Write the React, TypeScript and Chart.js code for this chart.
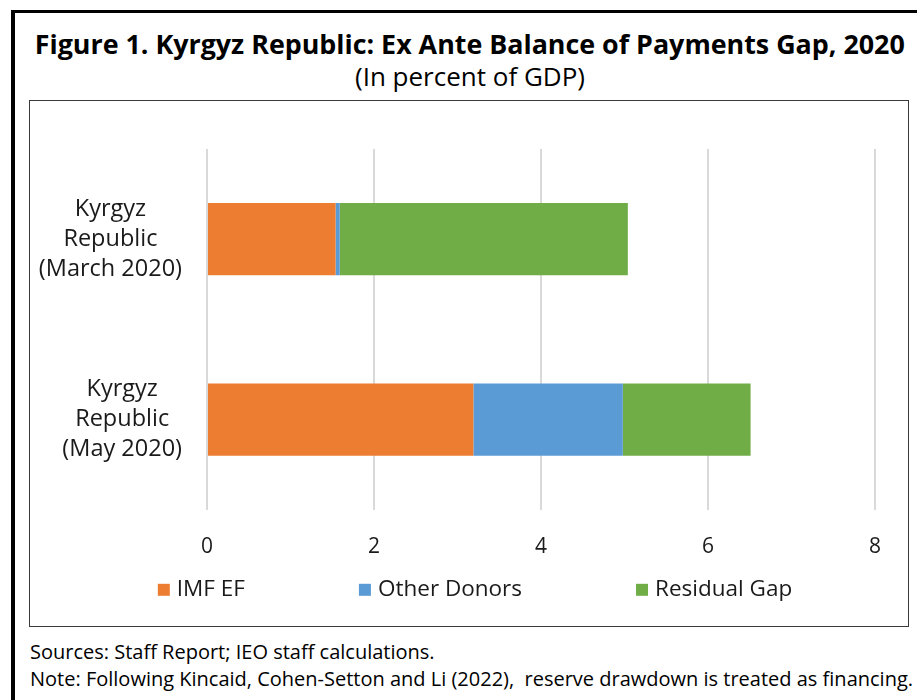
import React, { useEffect, useLayoutEffect, useRef } from "react";
import { Chart, registerables } from "chart.js";

Chart.register(...registerables);

// ---- Data ----
const categories: string[][] = [
  ["Kyrgyz", "Republic", "(March 2020)"],
  ["Kyrgyz", "Republic", "(May 2020)"],
];
const seriesNames = ["IMF EF", "Other Donors", "Residual Gap"];
const imfEF = [1.54, 3.19];
const otherDonors = [0.05, 1.79];
const residualGap = [3.45, 1.53];
const seriesColors = ["#ED7D31", "#5B9BD5", "#70AD47"];
const xTicks = [0, 2, 4, 6, 8];

const titleText = "Figure 1. Kyrgyz Republic: Ex Ante Balance of Payments Gap, 2020";
const subtitleText = "(In percent of GDP)";
const sourcesText = "Sources: Staff Report; IEO staff calculations.";
const noteText =
  "Note: Following Kincaid, Cohen-Setton and Li (2022),  reserve drawdown is treated as financing.";

const FONT = '"Open Sans", "Noto Sans", sans-serif';

const categoryLabelPlugin = {
  id: "categoryLabels",
  afterDraw(chart: any) {
    const { ctx } = chart;
    const yScale = chart.scales.y;
    const right = chart.chartArea.left - 25;
    const lineH = 30;
    ctx.save();
    ctx.font = `23.5px ${FONT}`;
    ctx.fillStyle = "#1a1a1a";
    ctx.textAlign = "center";
    ctx.textBaseline = "middle";
    (chart.data.labels as string[][]).forEach((lines, i) => {
      const cy = yScale.getPixelForValue(i);
      const maxW = Math.max(...lines.map((l) => ctx.measureText(l).width));
      const cx = right - maxW / 2;
      lines.forEach((l, j) => {
        ctx.fillText(l, cx, cy + (j - (lines.length - 1) / 2) * lineH);
      });
    });
    ctx.restore();
  },
};

const legendPlugin = {
  id: "excelLegend",
  afterDraw(chart: any) {
    const { ctx } = chart;
    const box = 12;
    const textGap = 7;
    const itemGap = 114;
    ctx.save();
    ctx.font = `22.5px ${FONT}`;
    const items = chart.data.datasets.map((d: any) => ({
      text: d.label as string,
      color: d.backgroundColor as string,
      w: box + textGap + ctx.measureText(d.label).width,
    }));
    const total =
      items.reduce((s: number, it: any) => s + it.w, 0) + itemGap * (items.length - 1);
    let x = chart.width / 2 + 6 - total / 2;
    const y = chart.chartArea.bottom + 80;
    ctx.textBaseline = "middle";
    ctx.textAlign = "left";
    items.forEach((it: any) => {
      ctx.fillStyle = it.color;
      ctx.fillRect(x, y - box / 2, box, box);
      ctx.fillStyle = "#1a1a1a";
      ctx.fillText(it.text, x + box + textGap, y);
      x += it.w + itemGap;
    });
    ctx.restore();
  },
};

function BarChart() {
  const ref = useRef<HTMLCanvasElement>(null);
  useEffect(() => {
    if (!ref.current) return;
    const chart = new Chart(ref.current, {
      type: "bar",
      data: {
        labels: categories as any,
        datasets: [
          { label: seriesNames[0], data: imfEF, backgroundColor: seriesColors[0] },
          { label: seriesNames[1], data: otherDonors, backgroundColor: seriesColors[1] },
          { label: seriesNames[2], data: residualGap, backgroundColor: seriesColors[2] },
        ].map((d) => ({ ...d, barPercentage: 0.4, categoryPercentage: 1, borderWidth: 0 })),
      },
      options: {
        indexAxis: "y",
        animation: false,
        responsive: false,
        maintainAspectRatio: false,
        layout: { padding: { top: 48, right: 33, bottom: 41, left: 0 } },
        plugins: {
          legend: { display: false },
          tooltip: { enabled: false },
          title: { display: false },
        },
        scales: {
          x: {
            stacked: true,
            min: xTicks[0],
            max: xTicks[xTicks.length - 1],
            afterBuildTicks: (s: any) => {
              s.ticks = xTicks.map((v) => ({ value: v }));
            },
            ticks: {
              padding: 25,
              color: "#1a1a1a",
              font: { family: FONT, size: 21 },
              maxRotation: 0,
            },
            grid: { color: "#d9d9d9", lineWidth: 2, drawTicks: false },
            border: { display: false },
          },
          y: {
            stacked: true,
            ticks: { display: false },
            grid: { display: false },
            border: { display: false },
            afterFit: (s: any) => {
              s.width = 177;
            },
          },
        },
      } as any,
      plugins: [categoryLabelPlugin, legendPlugin],
    });
    return () => chart.destroy();
  }, []);
  return <canvas ref={ref} width={878} height={525} style={{ display: "block" }} />;
}

function FitText({ text, width, style }: { text: string; width: number; style: any }) {
  const ref = useRef<HTMLSpanElement>(null);
  useLayoutEffect(() => {
    const el = ref.current;
    if (!el) return;
    el.style.transform = "none";
    const w = el.getBoundingClientRect().width;
    if (w > 0) el.style.transform = `scaleX(${width / w})`;
  }, [text, width]);
  return (
    <span
      ref={ref}
      style={{ display: "inline-block", whiteSpace: "nowrap", transformOrigin: "center", ...style }}
    >
      {text}
    </span>
  );
}

export default function App() {
  return (
    <div
      style={{
        position: "fixed",
        left: 0,
        top: 0,
        width: 917,
        height: 700,
        overflow: "hidden",
        background: "#fff",
        fontFamily: FONT,
        color: "#000",
      }}
    >
      <div
        style={{
          position: "absolute",
          left: 11,
          top: 10,
          width: 960,
          height: 760,
          borderLeft: "4px solid #000",
          borderTop: "3px solid #000",
        }}
      />
      <div
        style={{
          position: "absolute",
          left: 0,
          width: 940,
          top: 27,
          textAlign: "center",
          lineHeight: "34px",
        }}
      >
        <FitText text={titleText} width={870} style={{ fontSize: 27, fontWeight: 700 }} />
      </div>
      <div
        style={{
          position: "absolute",
          left: 0,
          width: 940,
          top: 60,
          textAlign: "center",
          fontSize: 26,
          lineHeight: "32px",
        }}
      >
        {subtitleText}
      </div>
      <div
        style={{
          position: "absolute",
          left: 29,
          top: 100,
          width: 878,
          height: 525,
          border: "1px solid #3a3a3a",
        }}
      >
        <BarChart />
      </div>
      <div
        style={{
          position: "absolute",
          left: 30,
          top: 639,
          fontSize: 20,
          lineHeight: "26px",
          whiteSpace: "pre",
        }}
      >
        {sourcesText}
      </div>
      <div
        style={{
          position: "absolute",
          left: 30,
          top: 666,
          fontSize: 20,
          lineHeight: "26px",
          whiteSpace: "pre",
        }}
      >
        {noteText}
      </div>
    </div>
  );
}
